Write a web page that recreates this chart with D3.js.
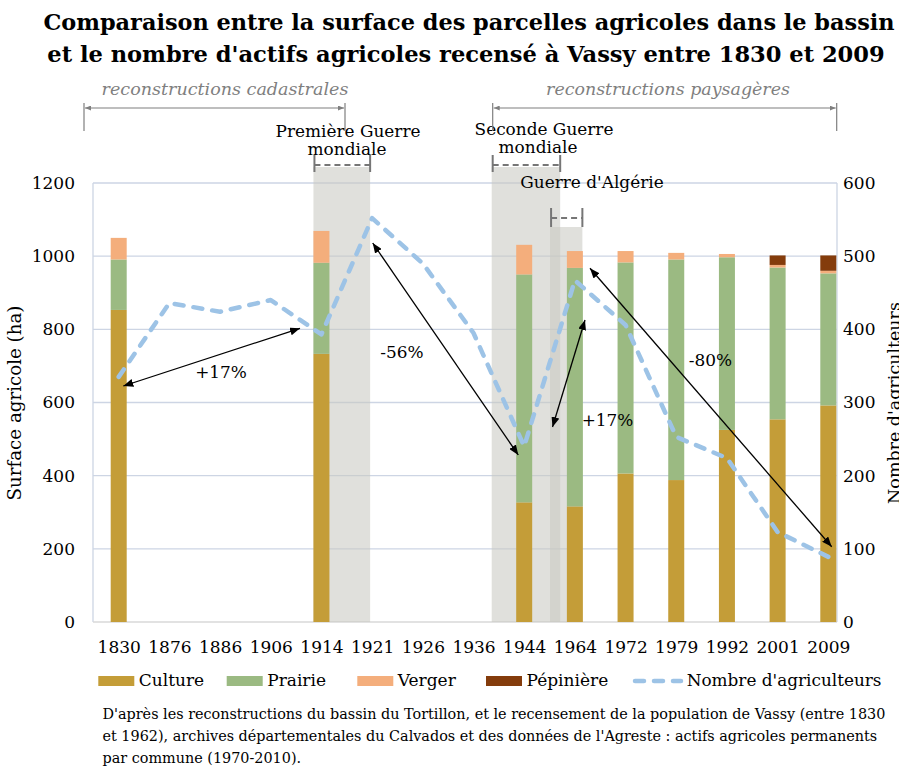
<!DOCTYPE html>
<html><head><meta charset="utf-8">
<script src="https://cdn.jsdelivr.net/npm/d3@7"></script>
<style>body{margin:0;background:#fff;} svg{display:block;}</style>
</head><body>
<script>
// ---------- data ----------
const categories = ["1830","1876","1886","1906","1914","1921","1926","1936","1944","1964","1972","1979","1992","2001","2009"];
const culture   = [853,null,null,null,733,null,null,null,327,316,406,388,525,554,592];
const prairie   = [138,null,null,null,249,null,null,null,623,652,577,603,472,415,361];
const verger    = [59, null,null,null,87, null,null,null,81, 46, 31, 18, 9,  7,  7];
const pepiniere = [0,  null,null,null,0,  null,null,null,0,  0,  0,  0,  0,  26, 42];
const agriculteurs = [335,436,424,440,393,552,490,395,240,467,406,253,224,123,89];
const leftTicks = [0,200,400,600,800,1000,1200];
const rightTicks = [0,100,200,300,400,500,600];
const seriesNames = ["Culture","Prairie","Verger","Pépinière"];
const seriesColors = ["#C49D38","#9BBA82","#F4AE7C","#843C0C"];
const lineName = "Nombre d'agriculteurs";
const lineColor = "#9DC3E6";
const wars = [
  {label:["Première Guerre","mondiale"], from:"1914", to:"1921"},
  {label:["Seconde Guerre","mondiale"], from:"1944", to:"1944"},
  {label:["Guerre d'Algérie"], from:"1964", to:"1964"}
];
const evolutions = [
  {label:"+17%", a:"1830", b:"1914"},
  {label:"-56%", a:"1921", b:"1944"},
  {label:"+17%", a:"1944", b:"1964"},
  {label:"-80%", a:"1964", b:"2009"}
];
const footnote = [
  "D'après les reconstructions du bassin du Tortillon, et le recensement de la population de Vassy (entre 1830",
  "et 1962), archives départementales du Calvados et des données de l'Agreste : actifs agricoles permanents",
  "par commune (1970-2010)."
];

// ---------- layout ----------
const W = 899, H = 774;
const FONT = "'DejaVu Serif', serif";
const plot = {left:93, right:837, top:183, bottom:622};
const svg = d3.select("body").append("svg").attr("width",W).attr("height",H)
  .attr("font-family",FONT);

function fit(sel, w){
  const n = sel.node(); const fs = parseFloat(sel.attr("font-size"));
  const cw = n.getComputedTextLength(); if(cw>0) sel.attr("font-size", fs*w/cw);
  return sel;
}

const x = d3.scalePoint().domain(categories).range([118.7, 828.3]);
const yL = d3.scaleLinear().domain([0,1200]).range([plot.bottom, plot.top]);
const yR = d3.scaleLinear().domain([0,600]).range([plot.bottom, plot.top]);
const barW = 16;

// markers
const defs = svg.append("defs");
defs.append("marker").attr("id","ah").attr("viewBox","0 0 10 8").attr("refX",10).attr("refY",4)
  .attr("markerWidth",10).attr("markerHeight",8).attr("markerUnits","userSpaceOnUse")
  .attr("orient","auto-start-reverse")
  .append("path").attr("d","M0,0L10,4L0,8Z").attr("fill","#000");
defs.append("marker").attr("id","gah").attr("viewBox","0 0 6 5").attr("refX",6).attr("refY",2.5)
  .attr("markerWidth",6).attr("markerHeight",5).attr("markerUnits","userSpaceOnUse")
  .attr("orient","auto-start-reverse")
  .append("path").attr("d","M0,0L6,2.5L0,5Z").attr("fill","#7f7f7f");

// ---------- title ----------
fit(svg.append("text").attr("x",469).attr("y",30).attr("text-anchor","middle")
  .attr("font-weight","bold").attr("font-size",24).attr("fill","#000")
  .text("Comparaison entre la surface des parcelles agricoles dans le bassin"), 852);
fit(svg.append("text").attr("x",466).attr("y",62).attr("text-anchor","middle")
  .attr("font-weight","bold").attr("font-size",24).attr("fill","#000")
  .text("et le nombre d'actifs agricoles recensé à Vassy entre 1830 et 2009"), 838);

// ---------- gridlines & frame ----------
const grid = svg.append("g");
grid.selectAll("line.g").data(leftTicks.filter(d=>d>0)).join("line")
  .attr("x1",plot.left).attr("x2",plot.right).attr("y1",d=>yL(d)).attr("y2",d=>yL(d))
  .attr("stroke","#CDD5E4").attr("stroke-width",1.3);
grid.append("line").attr("x1",plot.left).attr("x2",plot.left).attr("y1",plot.top).attr("y2",plot.bottom)
  .attr("stroke","#CDD5E4").attr("stroke-width",1.3);
grid.append("line").attr("x1",plot.right).attr("x2",plot.right).attr("y1",plot.top).attr("y2",plot.bottom)
  .attr("stroke","#CDD5E4").attr("stroke-width",1.3);
grid.append("line").attr("x1",plot.left).attr("x2",plot.right).attr("y1",plot.bottom).attr("y2",plot.bottom)
  .attr("stroke","#D9D9D9").attr("stroke-width",1.5);

// annotation font size from one reference text
const probe = svg.append("text").attr("font-size",16).text("Première Guerre");
fit(probe, 145);
const annFS = parseFloat(probe.attr("font-size"));
probe.remove();

// ---------- war bands ----------
const warGeom = [
  {x0: x("1914")-barW/2, x1: x("1921")-2, top:167, by:165, t0:155, t1:172, ly:[136.5,155], cx:[348,347]},
  {x0: x("1944")-32.5, x1: x("1944")+36, top:167, by:165, t0:155, t1:172, ly:[135,153], cx:[544,538]},
  {x0: x("1964")-24.8, x1: x("1964")+7.5, top:227, by:218, t0:208, t1:227, ly:[188], cx:[592]}
];
wars.forEach((w,i)=>{
  const g = warGeom[i];
  svg.append("rect").attr("x",g.x0).attr("y",g.top).attr("width",g.x1-g.x0).attr("height",plot.bottom-g.top)
    .attr("fill","#C8C9C1").attr("fill-opacity",0.57);
});
wars.forEach((w,i)=>{
  const g = warGeom[i];
  const br = svg.append("g").attr("stroke","#767676").attr("stroke-width",2).attr("fill","none");
  br.append("line").attr("x1",g.x0+1).attr("x2",g.x1).attr("y1",g.by).attr("y2",g.by).attr("stroke-dasharray","6,4");
  br.append("line").attr("x1",g.x0+1).attr("x2",g.x0+1).attr("y1",g.t0).attr("y2",g.t1);
  br.append("line").attr("x1",g.x1).attr("x2",g.x1).attr("y1",g.t0).attr("y2",g.t1);
  w.label.forEach((t,j)=>{
    svg.append("text").attr("x",g.cx[j]).attr("y",g.ly[j]).attr("text-anchor","middle")
      .attr("font-size",annFS).attr("fill","#000").text(t);
  });
});

// ---------- stacked bars ----------
const rows = categories.map((c,i)=>({cat:c, vals:[culture[i],prairie[i],verger[i],pepiniere[i]]}));
const barsG = svg.append("g");
rows.forEach(r=>{
  if(r.vals[0]==null) return;
  let acc = 0;
  r.vals.forEach((v,k)=>{
    if(!v) return;
    barsG.append("rect").attr("x",x(r.cat)-barW/2).attr("width",barW)
      .attr("y",yL(acc+v)).attr("height",yL(acc)-yL(acc+v)).attr("fill",seriesColors[k]);
    acc += v;
  });
});

// ---------- line ----------
svg.append("path").datum(agriculteurs)
  .attr("d", d3.line().x((d,i)=>x(categories[i])).y(d=>yR(d)))
  .attr("fill","none").attr("stroke",lineColor).attr("stroke-width",4.5)
  .attr("stroke-dasharray","9,10").attr("stroke-linecap","round").attr("stroke-linejoin","round");

// ---------- evolution arrows ----------
const arrowPts = [
  [[123.3,386],[300,328.3]],
  [[372.7,243],[518.3,455]],
  [[552.5,427],[585,320]],
  [[590,268.3],[831.7,546.7]]
];
const arrowLabels = [[221,378],[402,358],[607.5,426],[710.5,366]];
evolutions.forEach((e,i)=>{
  const p = arrowPts[i];
  svg.append("line").attr("x1",p[0][0]).attr("y1",p[0][1]).attr("x2",p[1][0]).attr("y2",p[1][1])
    .attr("stroke","#000").attr("stroke-width",1.3)
    .attr("marker-start","url(#ah)").attr("marker-end","url(#ah)");
  svg.append("text").attr("x",arrowLabels[i][0]).attr("y",arrowLabels[i][1]).attr("text-anchor","middle")
    .attr("font-size",annFS).attr("fill","#000").text(e.label);
});

// ---------- top brackets ----------
const periods = [
  {label:"reconstructions cadastrales", x0:84, x1:345, cx:225, w:247},
  {label:"reconstructions paysagères", x0:492.7, x1:836.7, cx:668, w:244}
];
periods.forEach(p=>{
  const g = svg.append("g").attr("stroke","#7f7f7f").attr("stroke-width",1.2);
  g.append("line").attr("x1",p.x0+1).attr("x2",p.x1-1).attr("y1",108).attr("y2",108)
    .attr("marker-start","url(#gah)").attr("marker-end","url(#gah)");
  g.append("line").attr("x1",p.x0).attr("x2",p.x0).attr("y1",103).attr("y2",131);
  g.append("line").attr("x1",p.x1).attr("x2",p.x1).attr("y1",103).attr("y2",131);
  fit(svg.append("text").attr("x",p.cx).attr("y",95).attr("text-anchor","middle")
    .attr("font-style","italic").attr("font-size",16).attr("fill","#7f7f7f").text(p.label), p.w);
});

// ---------- axes ----------
const fmt = d3.format("d");
const axL = svg.append("g").attr("transform",`translate(${plot.left},0)`)
  .call(d3.axisLeft(yL).tickValues(leftTicks).tickFormat(fmt).tickSize(0).tickPadding(18));
const axR = svg.append("g").attr("transform",`translate(${plot.right},0)`)
  .call(d3.axisRight(yR).tickValues(rightTicks).tickFormat(fmt).tickSize(0).tickPadding(6));
const axB = svg.append("g").attr("transform",`translate(0,${plot.bottom})`)
  .call(d3.axisBottom(x).tickSize(0).tickPadding(19));
[axL,axR,axB].forEach(a=>{
  a.select(".domain").remove();
  a.selectAll("text").attr("font-family",FONT).attr("font-size",17).attr("fill","#000");
});

// axis titles
fit(svg.append("text").attr("transform","translate(21,403) rotate(-90)").attr("text-anchor","middle")
  .attr("font-size",17).attr("fill","#000").text("Surface agricole (ha)"), 195);
fit(svg.append("text").attr("transform","translate(900,403) rotate(-90)").attr("text-anchor","middle")
  .attr("font-size",17).attr("fill","#000").text(lineName), 202);

// ---------- legend ----------
const legX = [98.3, 226.7, 357.3, 486];
seriesNames.forEach((n,i)=>{
  svg.append("rect").attr("x",legX[i]).attr("y",676).attr("width",36).attr("height",10).attr("fill",seriesColors[i]);
  svg.append("text").attr("x",legX[i]+40.5).attr("y",686).attr("font-size",17).attr("fill","#000").text(n);
});
svg.append("line").attr("x1",635).attr("x2",681).attr("y1",681).attr("y2",681)
  .attr("stroke",lineColor).attr("stroke-width",4.5).attr("stroke-dasharray","9,10").attr("stroke-linecap","round");
fit(svg.append("text").attr("x",686.7).attr("y",686).attr("font-size",17).attr("fill","#000").text(lineName), 195);

// ---------- footnote ----------
const fn = svg.append("g");
const fy = [719, 741, 763];
let fs = null;
footnote.forEach((t,i)=>{
  const el = fn.append("text").attr("x",102.5).attr("y",fy[i]).attr("font-size",14).attr("fill","#000").text(t);
  if(i===0){ fit(el, 784); fs = el.attr("font-size"); } else el.attr("font-size",fs);
});
</script>
</body></html>
